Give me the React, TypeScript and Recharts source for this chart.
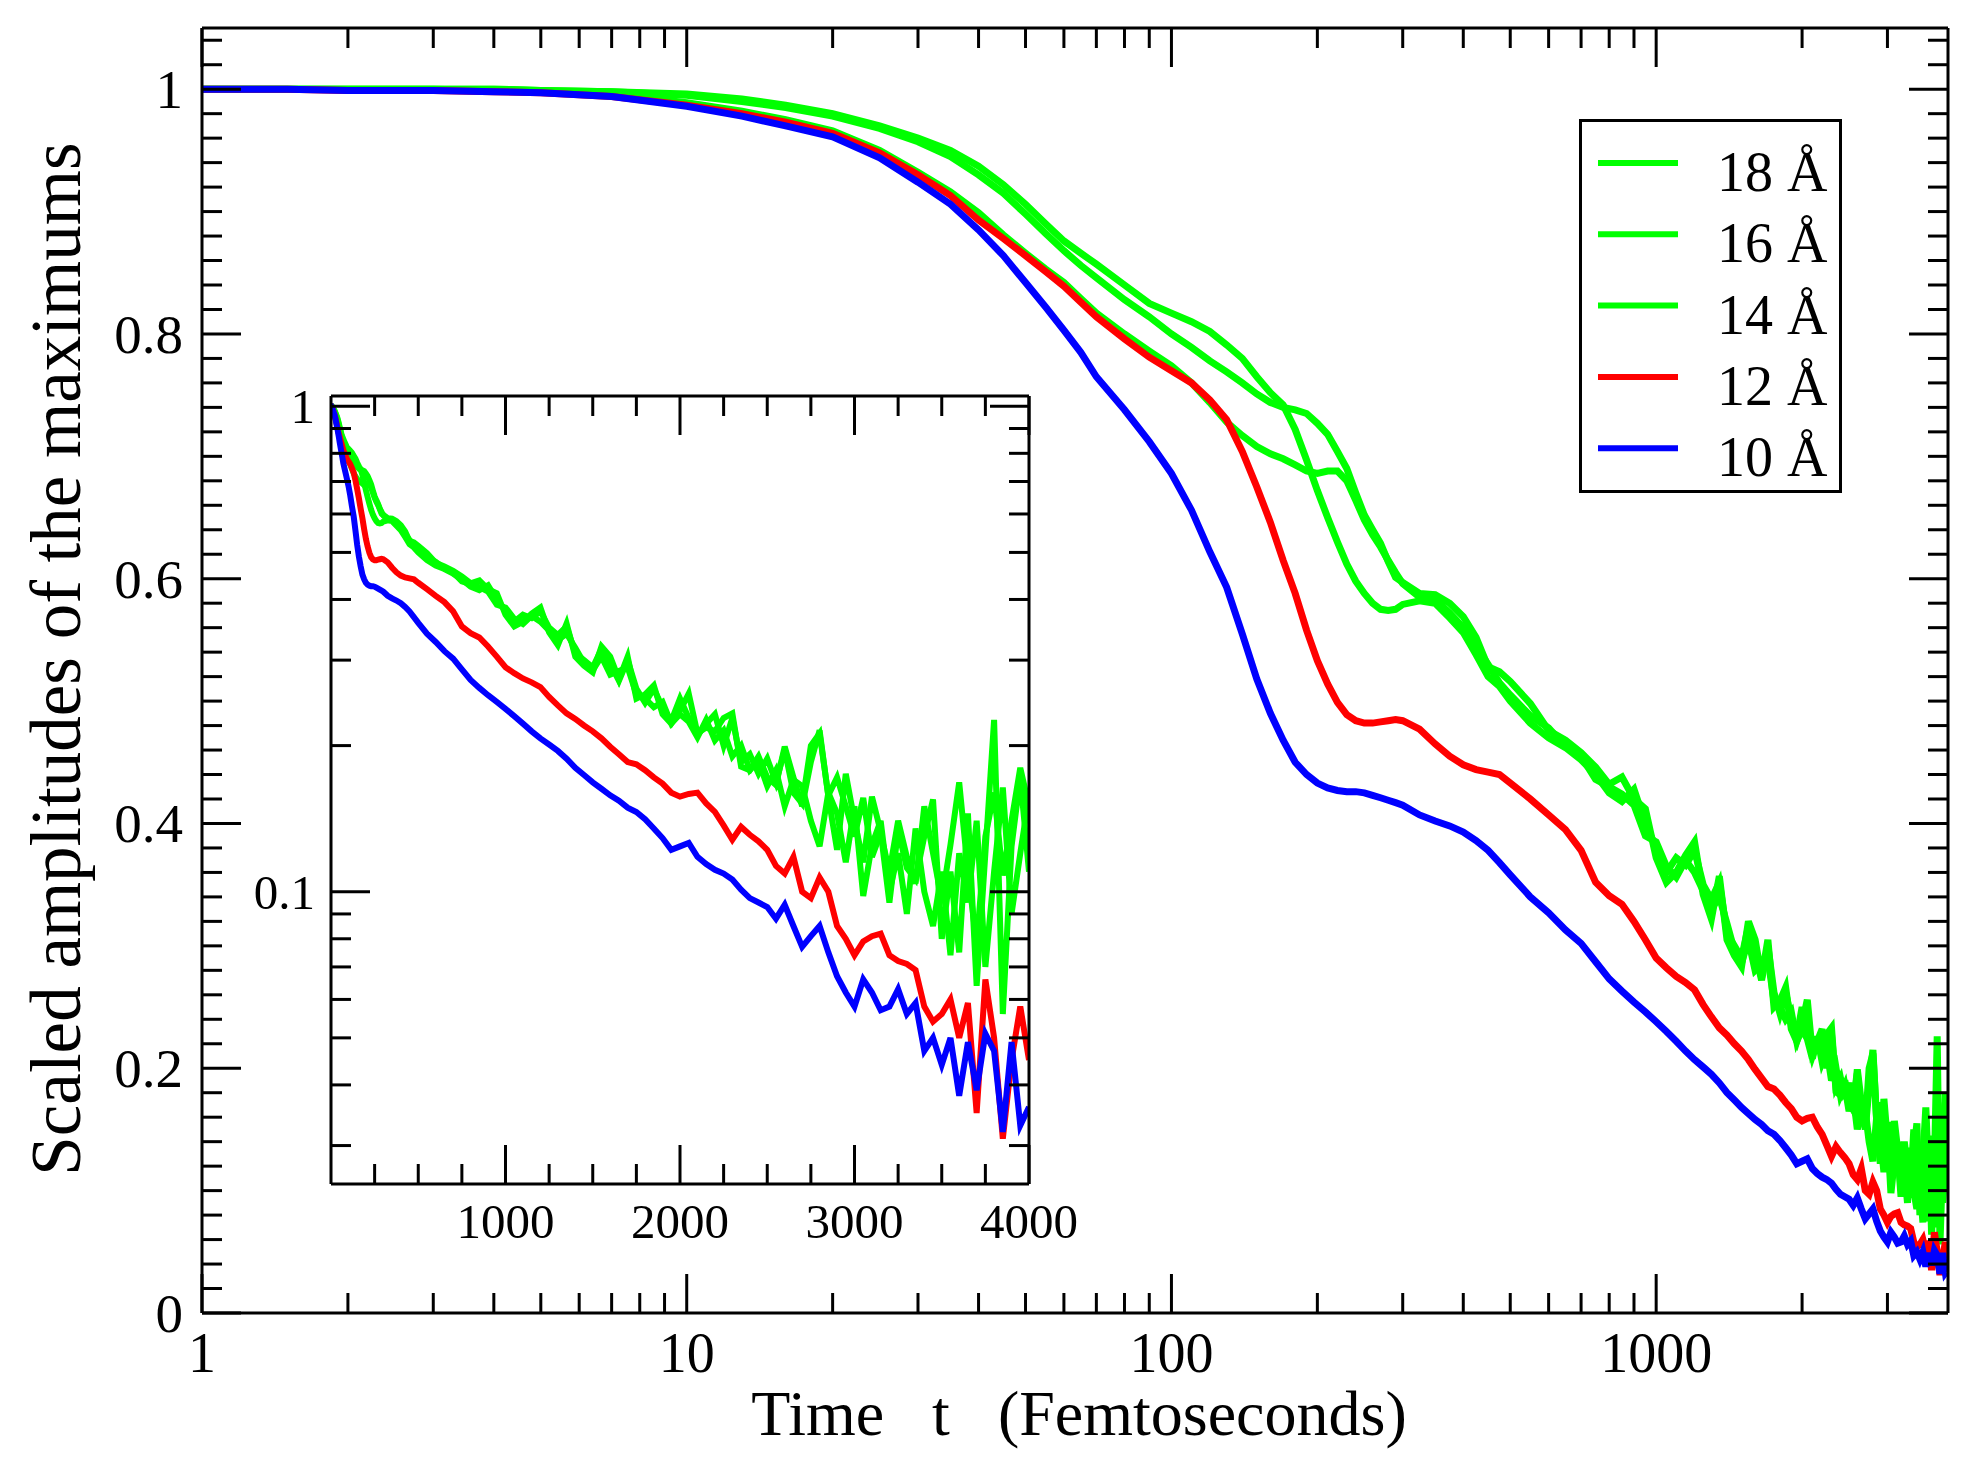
import React from 'react';
import { LineChart, Line, XAxis, YAxis } from 'recharts';

const FONT = '"Liberation Serif", "Times New Roman", serif';

// ---- time grid (femtoseconds) ----
const T_EARLY = [1, 1.5, 2, 3, 4, 5, 7, 10, 13, 16, 20, 25, 30, 35, 40, 45, 50, 55, 60, 65, 70,
  80, 90, 100, 110, 120, 130, 140, 150, 160, 170, 180, 190, 200, 210, 220, 230, 240, 250, 260, 270, 280, 290, 300];
const T_MID = [325, 350, 375, 400, 425, 450, 475, 500, 550, 600, 650, 700, 750, 800, 850, 900, 950, 1000];
const T_LATE = [1050, 1100, 1150, 1200, 1250, 1300, 1350, 1400, 1450, 1500,
  1550, 1600, 1650, 1700, 1750, 1800, 1850, 1900, 1950, 2000,
  2050, 2100, 2150, 2200, 2250, 2300, 2350, 2400, 2450, 2500,
  2550, 2600, 2650, 2700, 2750, 2800, 2850, 2900, 2950, 3000,
  3050, 3100, 3150, 3200, 3250, 3300, 3350, 3400, 3450, 3500,
  3550, 3600, 3650, 3700, 3750, 3800, 3850, 3900, 3950, 4000];

// ---- 10 Å (blue) ----
const B10_EARLY = [1.000, 1.000, 0.999, 0.999, 0.998, 0.997, 0.994, 0.986, 0.978, 0.970, 0.961, 0.944,
  0.924, 0.906, 0.885, 0.864, 0.842, 0.822, 0.803, 0.785, 0.765,
  0.738, 0.712, 0.686, 0.656, 0.622, 0.593, 0.555, 0.518, 0.490, 0.468, 0.450, 0.440, 0.433, 0.429,
  0.427, 0.426, 0.426, 0.425, 0.423, 0.421, 0.419, 0.417, 0.415];
const B10_MID = [0.407, 0.402, 0.398, 0.393, 0.386, 0.378, 0.368, 0.358, 0.340, 0.327, 0.313, 0.302,
  0.287, 0.273, 0.263, 0.254, 0.246, 0.238];
const B10_LATE = [0.230, 0.222, 0.214, 0.207, 0.201, 0.195, 0.188, 0.180, 0.174, 0.168,
  0.163, 0.158, 0.154, 0.149, 0.146, 0.141, 0.135, 0.129, 0.122, 0.124,
  0.126, 0.118, 0.114, 0.111, 0.109, 0.106, 0.101, 0.097, 0.095, 0.093,
  0.088, 0.094, 0.085, 0.077, 0.081, 0.085, 0.075, 0.067, 0.062, 0.058,
  0.066, 0.062, 0.057, 0.058, 0.063, 0.056, 0.059, 0.047, 0.050, 0.044,
  0.050, 0.038, 0.049, 0.039, 0.051, 0.047, 0.032, 0.049, 0.033, 0.036];

// ---- 12 Å (red) ----
const R12_EARLY = [1.000, 1.000, 0.999, 0.999, 0.998, 0.997, 0.994, 0.987, 0.980, 0.973, 0.964, 0.948,
  0.930, 0.913, 0.893, 0.878, 0.864, 0.851, 0.839, 0.826, 0.814,
  0.796, 0.781, 0.770, 0.760, 0.746, 0.730, 0.704, 0.675, 0.646, 0.615, 0.588, 0.558, 0.533, 0.514,
  0.499, 0.489, 0.484, 0.482, 0.482, 0.483, 0.484, 0.485, 0.484];
const R12_MID = [0.477, 0.465, 0.455, 0.448, 0.444, 0.442, 0.440, 0.433, 0.420, 0.407, 0.395, 0.378,
  0.352, 0.341, 0.334, 0.320, 0.305, 0.290];
const R12_LATE = [0.282, 0.275, 0.270, 0.264, 0.252, 0.242, 0.233, 0.227, 0.220, 0.214,
  0.207, 0.199, 0.192, 0.185, 0.183, 0.178, 0.172, 0.167, 0.160, 0.157,
  0.159, 0.160, 0.152, 0.146, 0.137, 0.128, 0.136, 0.131, 0.127, 0.122,
  0.113, 0.109, 0.118, 0.100, 0.097, 0.107, 0.100, 0.085, 0.080, 0.074,
  0.079, 0.081, 0.082, 0.074, 0.072, 0.071, 0.069, 0.058, 0.054, 0.056,
  0.060, 0.050, 0.059, 0.035, 0.066, 0.050, 0.031, 0.045, 0.058, 0.045];

// ---- 14 Å (green) ----
const G14_EARLY = [1.000, 1.000, 1.000, 1.000, 0.999, 0.998, 0.996, 0.989, 0.982, 0.975, 0.966, 0.950,
  0.932, 0.916, 0.899, 0.881, 0.866, 0.853, 0.842, 0.829, 0.817,
  0.800, 0.786, 0.774, 0.760, 0.744, 0.728, 0.717, 0.708, 0.702, 0.698, 0.693, 0.688, 0.686, 0.688,
  0.688, 0.680, 0.664, 0.648, 0.636, 0.626, 0.615, 0.605, 0.596];
const G14_MID = [0.585, 0.583, 0.572, 0.560, 0.545, 0.530, 0.515, 0.505, 0.488, 0.478, 0.463, 0.455,
  0.436, 0.430, 0.424, 0.415, 0.390, 0.385];
const G14_LATE = [0.365, 0.356, 0.370, 0.360, 0.345, 0.330, 0.340, 0.318, 0.296, 0.286,
  0.305, 0.280, 0.285, 0.290, 0.255, 0.250, 0.240, 0.246, 0.222, 0.232,
  0.224, 0.208, 0.226, 0.205, 0.215, 0.190, 0.200, 0.178, 0.186, 0.165,
  0.178, 0.150, 0.170, 0.165, 0.140, 0.124, 0.160, 0.145, 0.115, 0.150,
  0.098, 0.125, 0.140, 0.100, 0.120, 0.090, 0.135, 0.100, 0.085, 0.110,
  0.074, 0.120, 0.095, 0.140, 0.070, 0.110, 0.164, 0.090, 0.120, 0.157];

// ---- 16 Å (green) ----
const G16_EARLY = [1.000, 1.000, 1.000, 1.000, 1.000, 0.999, 0.998, 0.995, 0.990, 0.985, 0.978, 0.968,
  0.957, 0.945, 0.930, 0.915, 0.898, 0.882, 0.868, 0.856, 0.846,
  0.828, 0.814, 0.800, 0.789, 0.778, 0.769, 0.760, 0.751, 0.744, 0.740, 0.738, 0.735, 0.727, 0.718,
  0.704, 0.690, 0.670, 0.652, 0.640, 0.629, 0.614, 0.601, 0.597];
const G16_MID = [0.588, 0.587, 0.580, 0.569, 0.552, 0.528, 0.524, 0.516, 0.498, 0.476, 0.468, 0.458,
  0.446, 0.432, 0.438, 0.420, 0.412, 0.372];
const G16_LATE = [0.352, 0.360, 0.374, 0.385, 0.342, 0.322, 0.357, 0.305, 0.292, 0.283,
  0.320, 0.305, 0.274, 0.305, 0.250, 0.255, 0.266, 0.232, 0.222, 0.236,
  0.256, 0.212, 0.218, 0.214, 0.228, 0.233, 0.181, 0.178, 0.190, 0.172,
  0.166, 0.199, 0.172, 0.150, 0.185, 0.215, 0.157, 0.122, 0.175, 0.140,
  0.115, 0.157, 0.133, 0.095, 0.134, 0.112, 0.106, 0.130, 0.155, 0.080,
  0.110, 0.075, 0.145, 0.064, 0.120, 0.226, 0.056, 0.124, 0.172, 0.110];

// ---- 18 Å (green) ----
const G18_EARLY = [1.000, 1.000, 1.000, 1.000, 1.000, 0.999, 0.998, 0.996, 0.992, 0.987, 0.980, 0.970,
  0.960, 0.950, 0.937, 0.922, 0.906, 0.890, 0.876, 0.866, 0.857,
  0.840, 0.825, 0.817, 0.810, 0.802, 0.791, 0.780, 0.765, 0.752, 0.742, 0.722, 0.697, 0.672, 0.650,
  0.630, 0.612, 0.598, 0.588, 0.580, 0.575, 0.574, 0.575, 0.579];
const G18_MID = [0.582, 0.580, 0.568, 0.556, 0.538, 0.520, 0.512, 0.500, 0.482, 0.470, 0.462, 0.452,
  0.440, 0.425, 0.418, 0.428, 0.400, 0.380];
const G18_LATE = [0.360, 0.372, 0.366, 0.378, 0.350, 0.338, 0.352, 0.310, 0.300, 0.290,
  0.316, 0.295, 0.272, 0.300, 0.262, 0.245, 0.262, 0.240, 0.225, 0.250,
  0.228, 0.210, 0.222, 0.232, 0.200, 0.228, 0.185, 0.192, 0.175, 0.188,
  0.168, 0.196, 0.160, 0.152, 0.200, 0.212, 0.158, 0.172, 0.150, 0.130,
  0.156, 0.118, 0.132, 0.110, 0.140, 0.118, 0.104, 0.150, 0.120, 0.096,
  0.125, 0.168, 0.110, 0.078, 0.130, 0.160, 0.108, 0.140, 0.180, 0.150];

const TIME = [...T_EARLY, ...T_MID, ...T_LATE];
const S10 = [...B10_EARLY, ...B10_MID, ...B10_LATE];
const S12 = [...R12_EARLY, ...R12_MID, ...R12_LATE];
const S14 = [...G14_EARLY, ...G14_MID, ...G14_LATE];
const S16 = [...G16_EARLY, ...G16_MID, ...G16_LATE];
const S18 = [...G18_EARLY, ...G18_MID, ...G18_LATE];

const SERIES = [
  { key: 'a18', name: '18 Å', color: '#00ff00' },
  { key: 'a16', name: '16 Å', color: '#00ff00' },
  { key: 'a14', name: '14 Å', color: '#00ff00' },
  { key: 'a12', name: '12 Å', color: '#ff0000' },
  { key: 'a10', name: '10 Å', color: '#0000ff' },
];

const rows = TIME.map((t, i) => ({ t, a18: S18[i], a16: S16[i], a14: S14[i], a12: S12[i], a10: S10[i] }));

// ---- ticks ----
const X_TICKS_MAIN = [1, 2, 3, 4, 5, 6, 7, 8, 9, 10, 20, 30, 40, 50, 60, 70, 80, 90,
  100, 200, 300, 400, 500, 600, 700, 800, 900, 1000, 2000, 3000];
const X_MAJOR_MAIN = [1, 10, 100, 1000];
const Y_TICKS_MAIN = Array.from({ length: 53 }, (_, i) => (i * 2) / 100);
const Y_MAJOR_MAIN = [0, 0.2, 0.4, 0.6, 0.8, 1];
const Y_LABELS_MAIN = ['0', '0.2', '0.4', '0.6', '0.8', '1'];

const X_TICKS_INSET = [250, 500, 750, 1000, 1250, 1500, 1750, 2000, 2250, 2500, 2750, 3000, 3250, 3500, 3750, 4000];
const X_MAJOR_INSET = [1000, 2000, 3000, 4000];
const Y_TICKS_INSET = [0.03, 0.04, 0.05, 0.06, 0.07, 0.08, 0.09, 0.1, 0.2, 0.3, 0.4, 0.5, 0.6, 0.7, 0.8, 0.9, 1];
const Y_MAJOR_INSET = [0.1, 1];
const Y_LABELS_INSET = ['0.1', '1'];

const MAJ = 39;
const MIN = 20;
const TW = 3;

const near = (a: number, b: number) => Math.abs(a - b) < 1e-9;

const bottomTick = (majors: number[], fs: number, dy: number) => (p: any) => {
  const { x, y, payload } = p;
  const v = payload.value;
  const isMaj = majors.some((m) => near(m, v));
  return (
    <g>
      <line x1={x} y1={y} x2={x} y2={y - (isMaj ? MAJ : MIN)} stroke="#000" strokeWidth={TW} />
      {isMaj && (
        <text x={x} y={y + dy} textAnchor="middle" fontSize={fs} fontFamily={FONT} fill="#000">
          {String(v)}
        </text>
      )}
    </g>
  );
};

const topTick = (majors: number[]) => (p: any) => {
  const { x, y, payload } = p;
  const isMaj = majors.some((m) => near(m, payload.value));
  return <line x1={x} y1={y} x2={x} y2={y + (isMaj ? MAJ : MIN)} stroke="#000" strokeWidth={TW} />;
};

const leftTick = (majors: number[], labels: string[], fs: number, dx: number, dy: number) => (p: any) => {
  const { x, y, payload } = p;
  const idx = majors.findIndex((m) => near(m, payload.value));
  const isMaj = idx >= 0;
  return (
    <g>
      <line x1={x} y1={y} x2={x + (isMaj ? MAJ : MIN)} y2={y} stroke="#000" strokeWidth={TW} />
      {isMaj && (
        <text x={x - dx} y={y + dy} textAnchor="end" fontSize={fs} fontFamily={FONT} fill="#000">
          {labels[idx]}
        </text>
      )}
    </g>
  );
};

const rightTick = (majors: number[]) => (p: any) => {
  const { x, y, payload } = p;
  const isMaj = majors.some((m) => near(m, payload.value));
  return <line x1={x} y1={y} x2={x - (isMaj ? MAJ : MIN)} y2={y} stroke="#000" strokeWidth={TW} />;
};

const AXIS_LINE = { stroke: '#000', strokeWidth: TW };

const xTitle = () => (
  <text x={1071} y={1427} textAnchor="middle" fontSize={64} fontFamily={FONT} fill="#000"
    xmlSpace="preserve" style={{ whiteSpace: 'pre' }}>
    {'Time   t   (Femtoseconds)'}
  </text>
);

const yTitle = () => (
  <text x={72} y={651} transform="rotate(-90 72 651)" textAnchor="middle" fontSize={71} fontFamily={FONT} fill="#000">
    Scaled amplitudes of the maximums
  </text>
);

const LEGEND_Y = [44, 115.3, 186.6, 258, 329.3];

function LegendBox() {
  return (
    <svg width={263} height={374} style={{ position: 'absolute', left: 1571, top: 111, overflow: 'visible' }}>
      <rect x={1.5} y={1.5} width={260} height={371} fill="#fff" stroke="#000" strokeWidth={3} />
      {SERIES.map((s, i) => (
        <g key={s.key}>
          <line x1={19} x2={99} y1={LEGEND_Y[i]} y2={LEGEND_Y[i]} stroke={s.color} strokeWidth={6} />
          <text x={138} y={LEGEND_Y[i] + 28} fontSize={56} fontFamily={FONT} fill="#000">{s.name}</text>
        </g>
      ))}
    </svg>
  );
}

export default function App() {
  return (
    <div style={{ position: 'relative', width: 1968, height: 1450 }}>
      <LineChart width={1968} height={1450} data={rows} margin={{ top: 19, right: 27, bottom: 44, left: 94 }}>
        <XAxis xAxisId="xb" dataKey="t" type="number" scale="log" domain={[1, 4000]} allowDataOverflow
          ticks={X_TICKS_MAIN} interval={0} tickSize={0} tickMargin={0} height={101}
          axisLine={AXIS_LINE} tickLine={false} tick={bottomTick(X_MAJOR_MAIN, 56, 59)} label={xTitle} />
        <XAxis xAxisId="xt" dataKey="t" orientation="top" type="number" scale="log" domain={[1, 4000]} allowDataOverflow
          ticks={X_TICKS_MAIN} interval={0} tickSize={0} tickMargin={0} height={1}
          axisLine={AXIS_LINE} tickLine={false} tick={topTick(X_MAJOR_MAIN)} />
        <YAxis yAxisId="yl" type="number" domain={[0, 1.05]} allowDataOverflow
          ticks={Y_TICKS_MAIN} interval={0} tickSize={0} tickMargin={0} width={100}
          axisLine={AXIS_LINE} tickLine={false} tick={leftTick(Y_MAJOR_MAIN, Y_LABELS_MAIN, 55, 19, 19)} label={yTitle} />
        <YAxis yAxisId="yr" orientation="right" type="number" domain={[0, 1.05]} allowDataOverflow
          ticks={Y_TICKS_MAIN} interval={0} tickSize={0} tickMargin={0} width={1}
          axisLine={AXIS_LINE} tickLine={false} tick={rightTick(Y_MAJOR_MAIN)} />
        {SERIES.map((s) => (
          <Line key={s.key} xAxisId="xb" yAxisId="yl" type="linear" dataKey={s.key} name={s.name}
            stroke={s.color} strokeWidth={7} dot={false} isAnimationActive={false} />
        ))}
      </LineChart>

      <div style={{ position: 'absolute', left: 233, top: 357 }}>
        <LineChart width={849} height={889} data={rows} margin={{ top: 30, right: 60, bottom: 0, left: 0 }}>
          <XAxis xAxisId="ib" dataKey="t" type="number" domain={[0, 4000]} allowDataOverflow
            ticks={X_TICKS_INSET} interval={0} tickSize={0} tickMargin={0} height={70}
            axisLine={AXIS_LINE} tickLine={false} tick={bottomTick(X_MAJOR_INSET, 49, 54)} />
          <XAxis xAxisId="it" dataKey="t" orientation="top" type="number" domain={[0, 4000]} allowDataOverflow
            ticks={X_TICKS_INSET} interval={0} tickSize={0} tickMargin={0} height={1}
            axisLine={AXIS_LINE} tickLine={false} tick={topTick(X_MAJOR_INSET)} />
          <YAxis yAxisId="il" type="number" scale="log" domain={[0.025, 1.05]} allowDataOverflow
            ticks={Y_TICKS_INSET} interval={0} tickSize={0} tickMargin={0} width={90}
            axisLine={AXIS_LINE} tickLine={false} tick={leftTick(Y_MAJOR_INSET, Y_LABELS_INSET, 49, 16, 17)} />
          <YAxis yAxisId="ir" orientation="right" type="number" scale="log" domain={[0.025, 1.05]} allowDataOverflow
            ticks={Y_TICKS_INSET} interval={0} tickSize={0} tickMargin={0} width={1}
            axisLine={AXIS_LINE} tickLine={false} tick={rightTick(Y_MAJOR_INSET)} />
          {SERIES.map((s) => (
            <Line key={s.key} xAxisId="ib" yAxisId="il" type="linear" dataKey={s.key} name={s.name}
              stroke={s.color} strokeWidth={6} dot={false} isAnimationActive={false} />
          ))}
        </LineChart>
      </div>

      <LegendBox />
    </div>
  );
}
